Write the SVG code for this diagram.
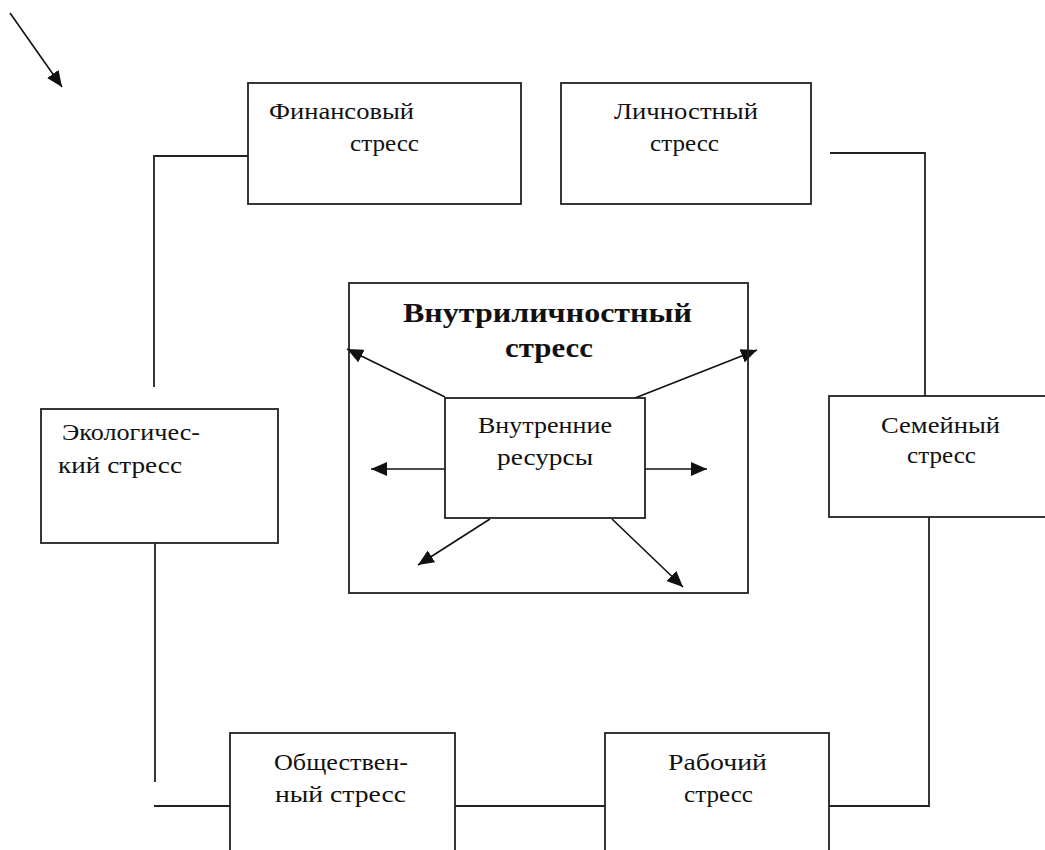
<svg xmlns="http://www.w3.org/2000/svg" width="1045" height="850" viewBox="0 0 1045 850">
<style>
.box{fill:#fff;stroke:#222;stroke-width:1.8}
.ln{fill:none;stroke:#222;stroke-width:1.8}
.ar{fill:none;stroke:#111;stroke-width:1.6;marker-end:url(#ah)}
.t{font-family:"Liberation Serif","DejaVu Serif",serif;font-size:23px;fill:#111}
.b{font-family:"Liberation Serif","DejaVu Serif",serif;font-size:28px;font-weight:bold;fill:#111}
</style>
<defs>
<marker id="ah" markerUnits="userSpaceOnUse" markerWidth="18" markerHeight="14" refX="16" refY="7" orient="auto">
<path d="M0,0 L16,7 L0,14 z" fill="#111"/>
</marker>
</defs>
<rect width="1045" height="850" fill="#fff"/>
<g id="connectors">
<line class="ar" x1="10" y1="13" x2="62" y2="87"/>
<polyline class="ln" points="248,156 154,156 154,387"/>
<polyline class="ln" points="830,153 925,153 925,396"/>
<line class="ln" x1="155" y1="543" x2="155" y2="782"/>
<line class="ln" x1="154" y1="806" x2="230" y2="806"/>
<line class="ln" x1="455" y1="806" x2="605" y2="806"/>
<polyline class="ln" points="829,806 929,806 929,517"/>
<line class="ar" x1="445" y1="397" x2="347" y2="349"/>
<line class="ar" x1="635" y1="398" x2="757" y2="350"/>
<line class="ar" x1="445" y1="469" x2="371" y2="469"/>
<line class="ar" x1="633" y1="469" x2="707" y2="469"/>
<line class="ar" x1="490" y1="519" x2="418" y2="565"/>
<line class="ar" x1="612" y1="519" x2="683" y2="587"/>
</g>
<g id="center">
<rect class="ln" x="349" y="283" width="399" height="310"/>
<text class="b" x="403" y="322" textLength="289" lengthAdjust="spacingAndGlyphs">Внутриличностный</text>
<text class="b" x="505" y="357" textLength="88" lengthAdjust="spacingAndGlyphs">стресс</text>
</g>
<g id="inner">
<rect class="box" x="445" y="398" width="200" height="120"/>
<text class="t" x="478" y="433" textLength="134" lengthAdjust="spacingAndGlyphs">Внутренние</text>
<text class="t" x="497" y="465" textLength="96" lengthAdjust="spacingAndGlyphs">ресурсы</text>
</g>
<g id="financial">
<rect class="box" x="248" y="83" width="273" height="121"/>
<text class="t" x="269" y="119" textLength="145" lengthAdjust="spacingAndGlyphs">Финансовый</text>
<text class="t" x="350" y="151" textLength="69" lengthAdjust="spacingAndGlyphs">стресс</text>
</g>
<g id="personal">
<rect class="box" x="561" y="83" width="250" height="121"/>
<text class="t" x="614" y="119" textLength="144" lengthAdjust="spacingAndGlyphs">Личностный</text>
<text class="t" x="650" y="151" textLength="69" lengthAdjust="spacingAndGlyphs">стресс</text>
</g>
<g id="ecological">
<rect class="box" x="41" y="409" width="237" height="134"/>
<text class="t" x="62" y="440" textLength="138" lengthAdjust="spacingAndGlyphs">Экологичес-</text>
<text class="t" x="58" y="473" textLength="124" lengthAdjust="spacingAndGlyphs">кий стресс</text>
</g>
<g id="family">
<rect class="box" x="829" y="396" width="230" height="121"/>
<text class="t" x="881" y="433" textLength="119" lengthAdjust="spacingAndGlyphs">Семейный</text>
<text class="t" x="907" y="463" textLength="69" lengthAdjust="spacingAndGlyphs">стресс</text>
</g>
<g id="social">
<rect class="box" x="230" y="733" width="225" height="140"/>
<text class="t" x="274" y="770" textLength="134" lengthAdjust="spacingAndGlyphs">Обществен-</text>
<text class="t" x="275" y="802" textLength="131" lengthAdjust="spacingAndGlyphs">ный стресс</text>
</g>
<g id="work">
<rect class="box" x="605" y="733" width="224" height="140"/>
<text class="t" x="668" y="770" textLength="99" lengthAdjust="spacingAndGlyphs">Рабочий</text>
<text class="t" x="684" y="802" textLength="69" lengthAdjust="spacingAndGlyphs">стресс</text>
</g>
</svg>
